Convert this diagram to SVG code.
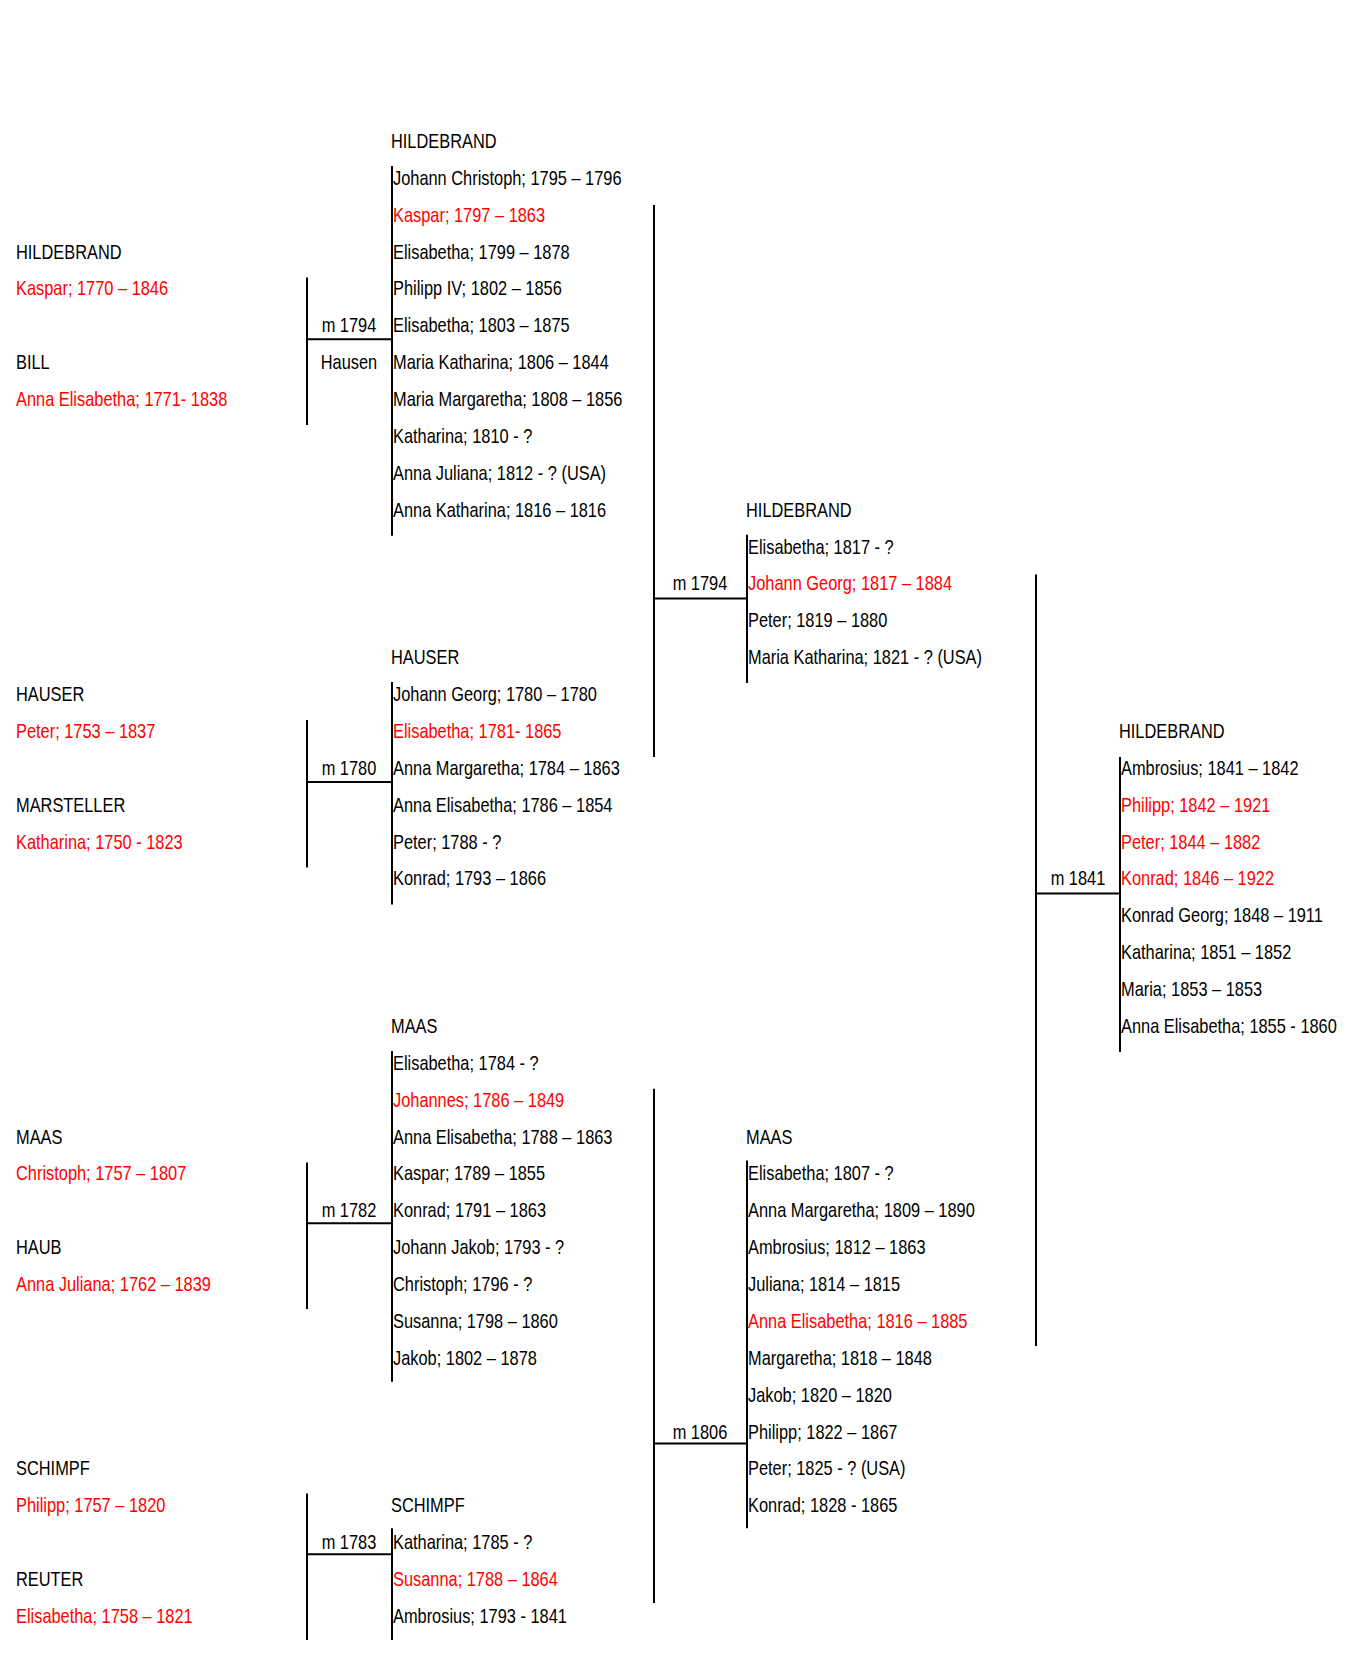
<svg xmlns="http://www.w3.org/2000/svg" width="1366" height="1658" viewBox="0 0 1366 1658">
<style>
text{font-family:"Liberation Sans Narrow","Arial Narrow","Liberation Sans",Arial,sans-serif;font-size:20px;fill:#000;transform-box:fill-box;transform-origin:0 50%;transform:scaleX(0.82)}
.r{fill:#ff0000}
.m{text-anchor:middle;transform-origin:50% 50%}
#connectors line{stroke:#000;stroke-width:2}
</style>
<rect width="1366" height="1658" fill="#fff"/>
<g id="connectors">
<line x1="307" y1="277.5" x2="307" y2="425"/>
<line x1="307" y1="339.3" x2="392" y2="339.3"/>
<line x1="307" y1="720" x2="307" y2="867.5"/>
<line x1="307" y1="782" x2="392" y2="782"/>
<line x1="307" y1="1162.5" x2="307" y2="1309"/>
<line x1="307" y1="1223.3" x2="392" y2="1223.3"/>
<line x1="307" y1="1493.4" x2="307" y2="1640"/>
<line x1="307" y1="1554.2" x2="392" y2="1554.2"/>
<line x1="392" y1="166" x2="392" y2="535.7"/>
<line x1="392" y1="682" x2="392" y2="904.4"/>
<line x1="392" y1="1051" x2="392" y2="1381.8"/>
<line x1="392" y1="1528.3" x2="392" y2="1640"/>
<line x1="654" y1="205" x2="654" y2="757"/>
<line x1="654" y1="598.4" x2="747" y2="598.4"/>
<line x1="654" y1="1088.8" x2="654" y2="1603"/>
<line x1="654" y1="1443.6" x2="747" y2="1443.6"/>
<line x1="747" y1="534.7" x2="747" y2="683"/>
<line x1="747" y1="1160.5" x2="747" y2="1528.3"/>
<line x1="1036" y1="574.5" x2="1036" y2="1346"/>
<line x1="1036" y1="893.4" x2="1120" y2="893.4"/>
<line x1="1120" y1="757" x2="1120" y2="1052"/>
</g>
<g id="marriage-labels">
<text class="m" x="349" y="332.4">m 1794</text>
<text class="m" x="349" y="369.2">Hausen</text>
<text class="m" x="349" y="774.9">m 1780</text>
<text class="m" x="349" y="1217.4">m 1782</text>
<text class="m" x="349" y="1549.2">m 1783</text>
<text class="m" x="700" y="590.5">m 1794</text>
<text class="m" x="700" y="1438.6">m 1806</text>
<text class="m" x="1078" y="885.5">m 1841</text>
</g>
<g id="parents-hildebrand-bill">
<text x="16" y="258.6">HILDEBRAND</text>
<text class="r" x="16" y="295.5">Kaspar; 1770 – 1846</text>
<text x="16" y="369.2">BILL</text>
<text class="r" x="16" y="406.1">Anna Elisabetha; 1771- 1838</text>
</g>
<g id="parents-hauser-marsteller">
<text x="16" y="701.1">HAUSER</text>
<text class="r" x="16" y="738">Peter; 1753 – 1837</text>
<text x="16" y="811.7">MARSTELLER</text>
<text class="r" x="16" y="848.6">Katharina; 1750 - 1823</text>
</g>
<g id="parents-maas-haub">
<text x="16" y="1143.6">MAAS</text>
<text class="r" x="16" y="1180.5">Christoph; 1757 – 1807</text>
<text x="16" y="1254.2">HAUB</text>
<text class="r" x="16" y="1291.1">Anna Juliana; 1762 – 1839</text>
</g>
<g id="parents-schimpf-reuter">
<text x="16" y="1475.5">SCHIMPF</text>
<text class="r" x="16" y="1512.4">Philipp; 1757 – 1820</text>
<text x="16" y="1586.1">REUTER</text>
<text class="r" x="16" y="1623">Elisabetha; 1758 – 1821</text>
</g>
<g id="children-hildebrand-1794">
<text x="391" y="148">HILDEBRAND</text>
<text x="393" y="184.9">Johann Christoph; 1795 – 1796</text>
<text class="r" x="393" y="221.7">Kaspar; 1797 – 1863</text>
<text x="393" y="258.6">Elisabetha; 1799 – 1878</text>
<text x="393" y="295.5">Philipp IV; 1802 – 1856</text>
<text x="393" y="332.4">Elisabetha; 1803 – 1875</text>
<text x="393" y="369.2">Maria Katharina; 1806 – 1844</text>
<text x="393" y="406.1">Maria Margaretha; 1808 – 1856</text>
<text x="393" y="443">Katharina; 1810 - ?</text>
<text x="393" y="479.9">Anna Juliana; 1812 - ? (USA)</text>
<text x="393" y="516.7">Anna Katharina; 1816 – 1816</text>
</g>
<g id="children-hauser-1780">
<text x="391" y="664.2">HAUSER</text>
<text x="393" y="701.1">Johann Georg; 1780 – 1780</text>
<text class="r" x="393" y="738">Elisabetha; 1781- 1865</text>
<text x="393" y="774.9">Anna Margaretha; 1784 – 1863</text>
<text x="393" y="811.7">Anna Elisabetha; 1786 – 1854</text>
<text x="393" y="848.6">Peter; 1788 - ?</text>
<text x="393" y="885.5">Konrad; 1793 – 1866</text>
</g>
<g id="children-maas-1782">
<text x="391" y="1033">MAAS</text>
<text x="393" y="1069.9">Elisabetha; 1784 - ?</text>
<text class="r" x="393" y="1106.7">Johannes; 1786 – 1849</text>
<text x="393" y="1143.6">Anna Elisabetha; 1788 – 1863</text>
<text x="393" y="1180.5">Kaspar; 1789 – 1855</text>
<text x="393" y="1217.4">Konrad; 1791 – 1863</text>
<text x="393" y="1254.2">Johann Jakob; 1793 - ?</text>
<text x="393" y="1291.1">Christoph; 1796 - ?</text>
<text x="393" y="1328">Susanna; 1798 – 1860</text>
<text x="393" y="1364.9">Jakob; 1802 – 1878</text>
</g>
<g id="children-schimpf-1783">
<text x="391" y="1512.4">SCHIMPF</text>
<text x="393" y="1549.2">Katharina; 1785 - ?</text>
<text class="r" x="393" y="1586.1">Susanna; 1788 – 1864</text>
<text x="393" y="1623">Ambrosius; 1793 - 1841</text>
</g>
<g id="children-hildebrand-1794b">
<text x="746" y="516.7">HILDEBRAND</text>
<text x="748" y="553.6">Elisabetha; 1817 - ?</text>
<text class="r" x="748" y="590.5">Johann Georg; 1817 – 1884</text>
<text x="748" y="627.4">Peter; 1819 – 1880</text>
<text x="748" y="664.2">Maria Katharina; 1821 - ? (USA)</text>
</g>
<g id="children-maas-1806">
<text x="746" y="1143.6">MAAS</text>
<text x="748" y="1180.5">Elisabetha; 1807 - ?</text>
<text x="748" y="1217.4">Anna Margaretha; 1809 – 1890</text>
<text x="748" y="1254.2">Ambrosius; 1812 – 1863</text>
<text x="748" y="1291.1">Juliana; 1814 – 1815</text>
<text class="r" x="748" y="1328">Anna Elisabetha; 1816 – 1885</text>
<text x="748" y="1364.9">Margaretha; 1818 – 1848</text>
<text x="748" y="1401.7">Jakob; 1820 – 1820</text>
<text x="748" y="1438.6">Philipp; 1822 – 1867</text>
<text x="748" y="1475.5">Peter; 1825 - ? (USA)</text>
<text x="748" y="1512.4">Konrad; 1828 - 1865</text>
</g>
<g id="children-hildebrand-1841">
<text x="1119" y="738">HILDEBRAND</text>
<text x="1121" y="774.9">Ambrosius; 1841 – 1842</text>
<text class="r" x="1121" y="811.7">Philipp; 1842 – 1921</text>
<text class="r" x="1121" y="848.6">Peter; 1844 – 1882</text>
<text class="r" x="1121" y="885.5">Konrad; 1846 – 1922</text>
<text x="1121" y="922.4">Konrad Georg; 1848 – 1911</text>
<text x="1121" y="959.2">Katharina; 1851 – 1852</text>
<text x="1121" y="996.1">Maria; 1853 – 1853</text>
<text x="1121" y="1033">Anna Elisabetha; 1855 - 1860</text>
</g>
</svg>
